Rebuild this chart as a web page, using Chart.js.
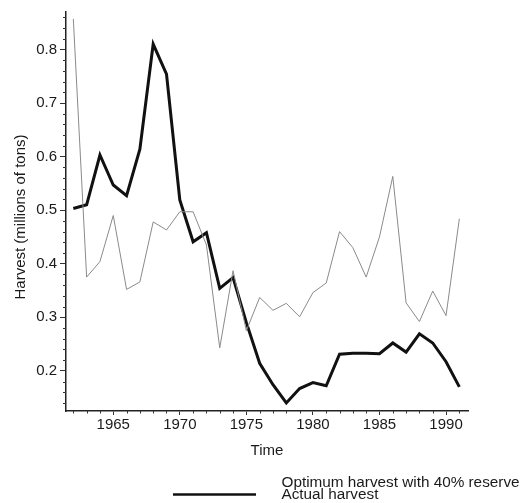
<!DOCTYPE html>
<html>
<head>
<meta charset="utf-8">
<script src="https://cdn.jsdelivr.net/npm/chart.js@4"></script>
<style>
  html, body { margin: 0; padding: 0; background: #fff; }
</style>
</head>
<body>
<canvas id="harvestChart" width="522" height="503"></canvas>
<script>
// Data
const years = [1962, 1963, 1964, 1965, 1966, 1967, 1968, 1969, 1970, 1971,
               1972, 1973, 1974, 1975, 1976, 1977, 1978, 1979, 1980, 1981,
               1982, 1983, 1984, 1985, 1986, 1987, 1988, 1989, 1990, 1991];
const optimumHarvest = [0.857, 0.375, 0.404, 0.490, 0.352, 0.366, 0.478, 0.463, 0.497, 0.497,
                        0.435, 0.243, 0.387, 0.275, 0.337, 0.313, 0.326, 0.301, 0.346, 0.364,
                        0.460, 0.430, 0.375, 0.450, 0.563, 0.327, 0.292, 0.349, 0.303, 0.484];
const actualHarvest = [0.503, 0.510, 0.603, 0.547, 0.527, 0.614, 0.810, 0.754, 0.519, 0.441,
                       0.458, 0.354, 0.374, 0.290, 0.214, 0.174, 0.140, 0.167, 0.178, 0.172,
                       0.231, 0.233, 0.233, 0.232, 0.252, 0.235, 0.269, 0.252, 0.217, 0.170];
const yearTicks = [1965, 1970, 1975, 1980, 1985, 1990];
const harvestTicks = [0.2, 0.3, 0.4, 0.5, 0.6, 0.7, 0.8];
const seriesLabels = ['Optimum harvest with 40% reserve', 'Actual harvest'];
const yTitle = 'Harvest (millions of tons)';

const FONT = "'Liberation Sans', Arial, Helvetica, sans-serif";
const INK = '#1a1a1a';

Chart.defaults.font.family = FONT;
Chart.defaults.font.size = 15;
Chart.defaults.color = INK;

// Small unlabeled ticks: every year on x, every 0.02 on y
const minorTicks = {
  id: 'minorTicks',
  afterDraw(chart) {
    const { ctx, scales: { x, y } } = chart;
    ctx.save();
    ctx.strokeStyle = '#333';
    ctx.lineWidth = 1;
    years.forEach(yr => {
      if (yearTicks.includes(yr)) return;
      const px = Math.round(x.getPixelForValue(yr)) + 0.5;
      ctx.beginPath();
      ctx.moveTo(px, y.bottom);
      ctx.lineTo(px, y.bottom + 2.5);
      ctx.stroke();
    });
    for (let k = 7; k <= 43; k++) {
      if (k % 5 === 0) continue;
      const py = Math.round(y.getPixelForValue(k * 0.02)) + 0.5;
      ctx.beginPath();
      ctx.moveTo(x.left, py);
      ctx.lineTo(x.left - 3, py);
      ctx.stroke();
    }
    ctx.restore();
  }
};

// Y title sits a little below the axis middle in the figure, so draw it by hand
const sideTitle = {
  id: 'sideTitle',
  afterDraw(chart) {
    const { ctx } = chart;
    ctx.save();
    ctx.font = '15px ' + FONT;
    ctx.fillStyle = INK;
    ctx.textAlign = 'center';
    ctx.textBaseline = 'middle';
    ctx.translate(21, 217);
    ctx.rotate(-Math.PI / 2);
    ctx.fillText(yTitle, 0, 0);
    ctx.restore();
  }
};

// Legend below the axis title, as in the figure
const bottomLegend = {
  id: 'bottomLegend',
  afterDraw(chart) {
    const { ctx } = chart;
    const ds = chart.data.datasets;
    ctx.save();
    ctx.font = '15.3px ' + FONT;
    ctx.fillStyle = INK;
    ctx.textBaseline = 'alphabetic';
    ctx.fillText(ds[0].label, 281.5, 487);
    ctx.fillText(ds[1].label, 281.5, 498.5);
    ctx.strokeStyle = ds[1].borderColor;
    ctx.lineWidth = 2.5;
    ctx.beginPath();
    ctx.moveTo(173, 494.5);
    ctx.lineTo(256, 494.5);
    ctx.stroke();
    ctx.restore();
  }
};

const ctx = document.getElementById('harvestChart').getContext('2d');
new Chart(ctx, {
  type: 'line',
  data: {
    datasets: [
      {
        label: seriesLabels[0],
        data: years.map((yr, i) => ({ x: yr, y: optimumHarvest[i] })),
        borderColor: '#8a8a8a',
        borderWidth: 1,
        pointRadius: 0,
        tension: 0
      },
      {
        label: seriesLabels[1],
        data: years.map((yr, i) => ({ x: yr, y: actualHarvest[i] })),
        borderColor: '#111',
        borderWidth: 3,
        pointRadius: 0,
        tension: 0
      }
    ]
  },
  options: {
    responsive: false,
    animation: false,
    layout: { padding: { left: 0, right: 54, top: 8, bottom: 0 } },
    plugins: {
      legend: { display: false },
      tooltip: { enabled: false }
    },
    scales: {
      x: {
        type: 'linear',
        min: 1961.45,
        max: 1991.65,
        afterBuildTicks: s => { s.ticks = yearTicks.map(v => ({ value: v })); },
        afterFit: s => { s.height = 92; },
        ticks: { padding: 1, maxRotation: 0, callback: v => String(v) },
        grid: { drawOnChartArea: false, tickLength: 4, tickColor: '#333' },
        border: { color: '#222', width: 1.5 },
        title: { display: true, text: 'Time', padding: { top: 0, bottom: 43 } }
      },
      y: {
        min: 0.125,
        max: 0.87,
        afterBuildTicks: s => { s.ticks = harvestTicks.map(v => ({ value: v })); },
        afterFit: s => { s.width = 66; },
        ticks: { padding: 3, callback: v => v.toFixed(1) },
        grid: { drawOnChartArea: false, tickLength: 6, tickColor: '#333' },
        border: { color: '#222', width: 1.5 }
      }
    }
  },
  plugins: [minorTicks, sideTitle, bottomLegend]
});
</script>
</body>
</html>
